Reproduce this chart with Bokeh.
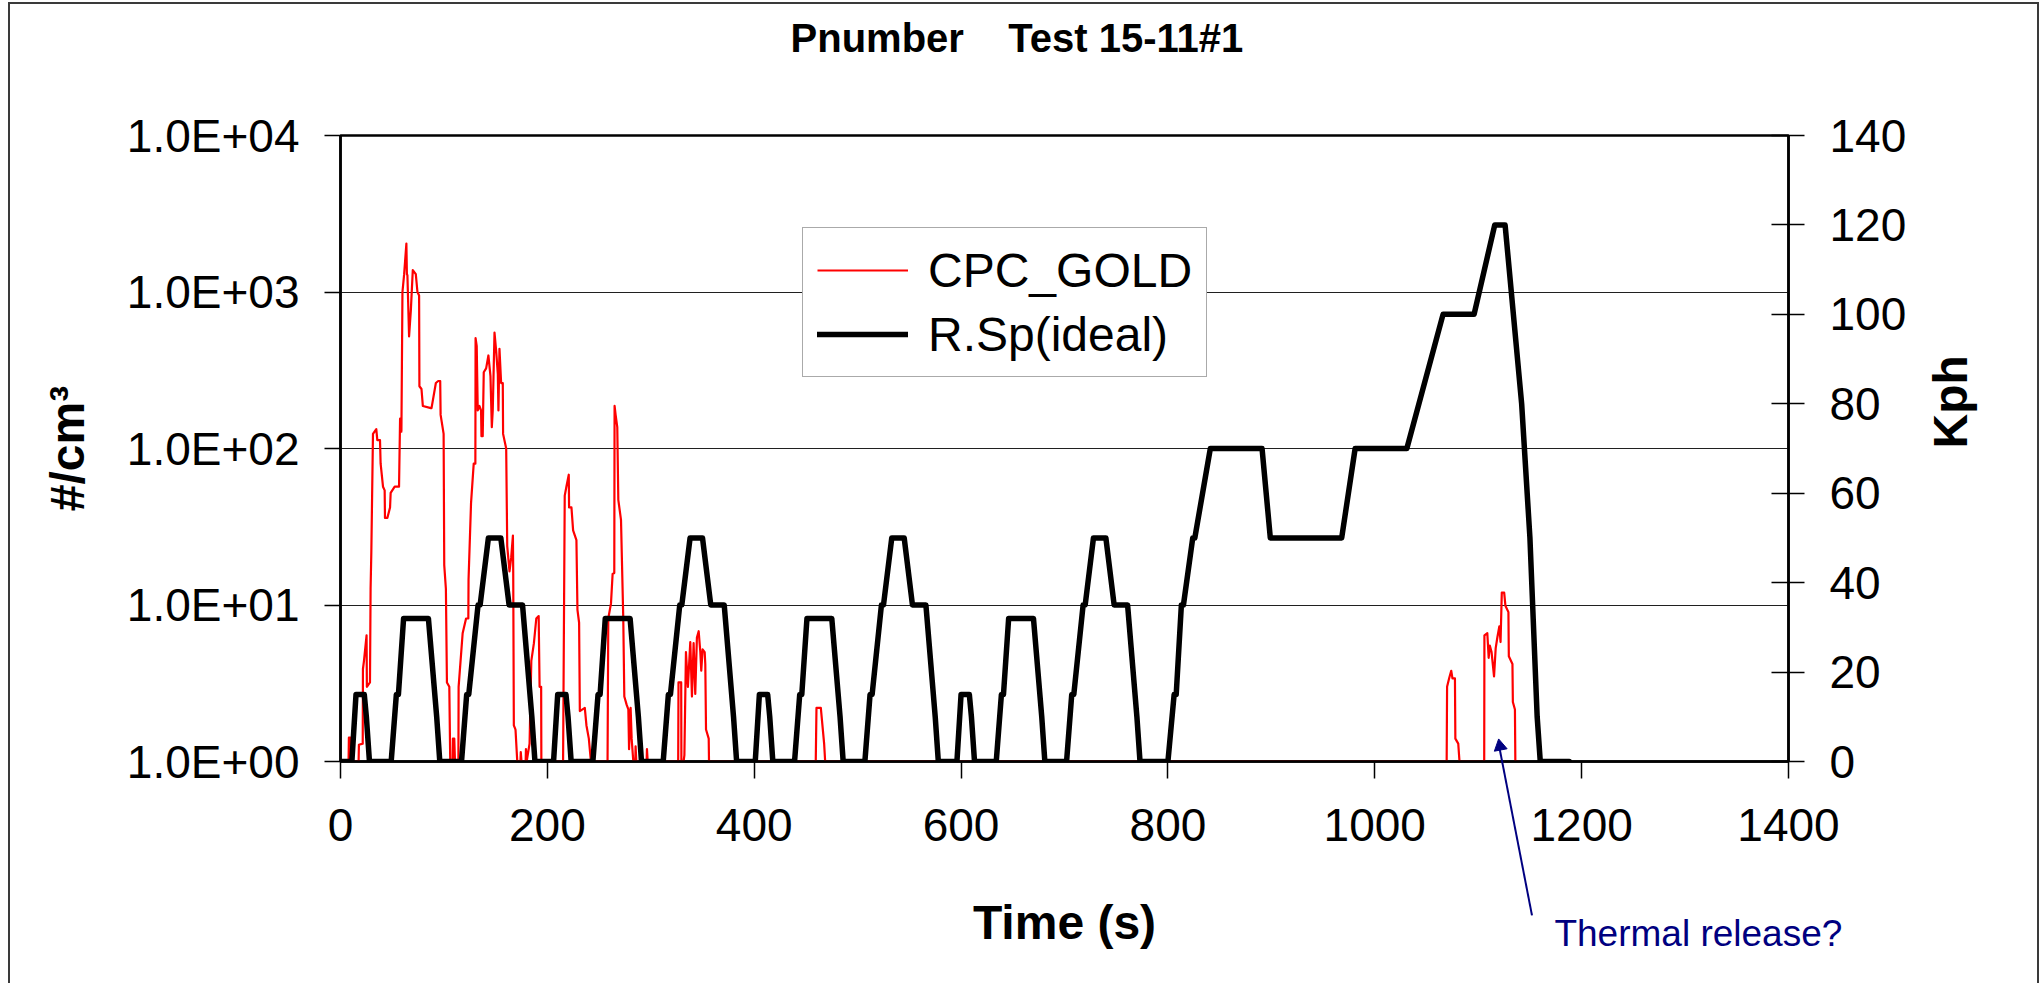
import math
from bokeh.plotting import figure
from bokeh.models import (Range1d, LinearAxis, LinearScale, FixedTicker, CustomJSTickFormatter,
                          Legend, LegendItem)
from bokeh.core.properties import value
from bokeh.embed import file_html
from bokeh.resources import INLINE

FONT = "Liberation Sans"

title_text = "Pnumber\u00a0\u00a0\u00a0\u00a0Test 15-11#1"
x_label = "Time (s)"
left_label = "#/cm\u00b3"
right_label = "Kph"
note_text = "Thermal release?"
series_names = ["CPC_GOLD", "R.Sp(ideal)"]

x_ticks = [0, 200, 400, 600, 800, 1000, 1200, 1400]
conc_ticks = [1, 10, 100, 1000, 10000]
kph_ticks = [0, 20, 40, 60, 80, 100, 120, 140]

# CPC_GOLD particle number (#/cm3)
cpc_time = [0, 7.8, 8.1, 9.5, 9.7, 17.5, 17.8, 21.5, 21.7, 22.7, 25.2, 25.5, 28.5, 29.1, 29.8,
            31.4, 34.6, 35.6, 38.2, 38.8, 41.1, 42.7, 43.0, 45.3, 47.9, 48.5, 52.4, 56.6, 57.6,
            58.9, 59.9, 61.5, 63.7, 64.2, 64.7, 66.3, 68.0, 69.9, 72.8, 74.4, 76.0, 76.3, 78.3,
            79.6, 87.4, 88.0, 92.2, 94.5, 96.4, 96.8, 99.7, 100.3, 101.9, 102.9, 105.2, 106.1,
            108.4, 108.7, 110.0, 110.7, 114.0, 114.2, 118.1, 121.4, 123.6, 123.8, 126.2, 128.8,
            130.4, 130.6, 131.7, 132.7, 134.3, 135.9, 136.3, 137.5, 138.5, 140.8, 143.0, 145.0,
            146.3, 147.2, 148.9, 150.5, 152.1, 152.7, 153.7, 155.3, 156.9, 157.2, 160.2, 161.2,
            163.4, 165.0, 166.7, 167.0, 167.6, 169.2, 170.9, 174.0, 174.3, 175.0, 179.0, 179.3,
            180.0, 182.8, 184.5, 187.0, 189.3, 191.6, 192.5, 194.0, 194.2, 215.2, 216.8, 218.4,
            220.7, 221.0, 223.3, 224.9, 228.1, 229.1, 230.7, 231.4, 236.2, 237.8, 240.1, 242.1,
            258.2, 258.9, 261.5, 263.1, 264.7, 265.0, 266.0, 267.6, 268.6, 271.2, 273.4, 274.4,
            276.7, 278.3, 279.0, 280.5, 281.5, 283.1, 285.0, 285.3, 286.0, 290.0, 290.3, 291.0,
            296.0, 296.3, 297.0, 326.5, 326.8, 329.4, 329.6, 331.7, 332.5, 334.0, 335.9, 338.2,
            339.8, 341.4, 343.0, 344.6, 346.3, 347.9, 348.8, 350.1, 352.1, 352.7, 353.4, 356.0,
            356.3, 459.5, 460.2, 464.4, 467.6, 468.6, 1069.5, 1069.9, 1071.9, 1073.9, 1075.1,
            1077.5, 1077.9, 1080.7, 1081.9, 1105.8, 1106.0, 1108.8, 1110.1, 1111.2, 1112.9,
            1115.3, 1116.9, 1118.5, 1120.4, 1121.6, 1122.8, 1125.1, 1126.3, 1129.2, 1129.6,
            1133.1, 1133.5, 1135.5, 1135.9, 1140.0]
cpc_conc = [1, 1, 1.42, 1.42, 1, 1, 1.28, 1.3, 3.9, 4.4, 6.4, 3.0, 3.2, 12.7, 21.6,
            124, 133, 113, 113, 80, 57, 54, 36, 36, 42, 52, 57, 57, 155,
            128, 1000, 1290, 2040, 1300, 1280, 520, 760, 1380, 1300, 1000, 950, 250, 240,
            187, 181, 181, 262, 270, 270, 164, 124, 18, 12.7, 3.2, 3.0, 1,
            1, 1.4, 1.4, 1, 1, 3.0, 6.6, 8.2, 8.2, 14.5, 44.6, 80,
            80, 507, 450, 175, 187, 175, 120, 120, 307, 325, 393, 290,
            137, 175, 551, 420, 300, 175, 433, 262, 262, 124, 100, 23.8,
            16.4, 20, 27.8, 16, 1.7, 1.6, 1, 1, 1.15, 1, 1, 1.2,
            1, 1.3, 4.4, 5.7, 8.2, 8.5, 3.0, 3.0, 1, 1, 50, 57,
            68, 42, 42, 30, 26, 9.3, 7.7, 2.1, 2.2, 1.7, 1.4, 1,
            1, 8.2, 10.2, 15.8, 16, 187, 164, 137, 47, 35, 8.2, 2.6,
            2.3, 2.15, 1.2, 2.2, 1.4, 1, 1, 1.25, 1, 1, 1.3, 1,
            1, 1.2, 1, 1, 3.2, 3.2, 1, 1, 1.1, 5.0, 3.0, 5.8,
            2.6, 5.7, 2.7, 6.2, 6.8, 5.0, 3.8, 5.2, 5.0, 4.2, 1.6, 1.4,
            1, 1, 2.2, 2.2, 1.3, 1, 1, 3.0, 3.4, 3.8, 3.4,
            3.4, 1.4, 1.3, 1, 1, 6.4, 6.6, 4.6, 5.5, 5.0,
            3.5, 5.3, 6.2, 7.3, 5.8, 12, 12, 9.9, 9.0, 4.7,
            4.2, 2.4, 2.15, 1, 1]

# R.Sp(ideal) road speed (Kph)
speed_time = [0, 11, 15, 23, 25, 28, 49, 54, 56, 61, 85, 93, 96, 117, 122, 124, 133, 135, 143,
              155, 163, 176, 185, 188,
              206, 210, 218, 220, 223, 244, 249, 251, 256, 280, 288, 291, 312, 317, 319, 328,
              330, 338, 350, 358, 371, 380, 383,
              401, 405, 413, 415, 418, 439, 444, 446, 451, 475, 483, 486, 507, 512, 514, 523,
              525, 533, 545, 553, 566, 575, 578,
              596, 600, 608, 610, 613, 634, 639, 641, 646, 670, 678, 681, 702, 707, 709, 718,
              720, 728, 740, 748, 761, 770, 773,
              800, 806, 808, 813, 815, 824, 826, 841, 891, 899, 968, 981, 1031, 1066, 1096,
              1116, 1126, 1142, 1150, 1157, 1160, 1188]
speed_kph = [0, 0, 15, 15, 10, 0, 0, 15, 15, 32, 32, 10, 0, 0, 15, 15, 35, 35, 50,
             50, 35, 35, 10, 0,
             0, 15, 15, 10, 0, 0, 15, 15, 32, 32, 10, 0, 0, 15, 15, 35,
             35, 50, 50, 35, 35, 10, 0,
             0, 15, 15, 10, 0, 0, 15, 15, 32, 32, 10, 0, 0, 15, 15, 35,
             35, 50, 50, 35, 35, 10, 0,
             0, 15, 15, 10, 0, 0, 15, 15, 32, 32, 10, 0, 0, 15, 15, 35,
             35, 50, 50, 35, 35, 10, 0,
             0, 15, 15, 35, 35, 50, 50, 70, 70, 50, 50, 70, 70, 100, 100,
             120, 120, 80, 50, 10, 0, 0]

p = figure(frame_width=1448, frame_height=626,
           x_range=Range1d(0, 1400), y_range=Range1d(1, 10000), y_axis_type="log",
           output_backend="svg", toolbar_location=None,
           min_border_left=330, min_border_right=249, min_border_top=131, min_border_bottom=222,
           x_axis_label=x_label, y_axis_label=left_label)
p.extra_y_ranges = {"kph": Range1d(0, 140)}
p.extra_y_scales = {"kph": LinearScale()}
p.background_fill_color = "white"
p.border_fill_color = "white"
p.outline_line_color = "black"
p.outline_line_width = 2.5
p.styles = {"margin-left": "8px", "margin-top": "2px",
            "border-left": "2px solid #3a3a3a", "border-top": "2px solid #3a3a3a",
            "border-right": "2px solid #3a3a3a"}

# grid
p.xgrid.grid_line_color = None
p.ygrid.ticker = FixedTicker(ticks=conc_ticks)
p.ygrid.grid_line_color = "#202020"
p.ygrid.grid_line_width = 1

def style_axis(ax):
    ax.axis_line_color = "black"
    ax.axis_line_width = 2.5
    ax.major_tick_line_color = "black"
    ax.major_tick_line_width = 1.5
    ax.minor_tick_line_color = None
    ax.major_label_text_font = FONT
    ax.major_label_text_font_size = "46px"
    ax.major_label_text_color = "black"
    ax.axis_label_text_font = FONT
    ax.axis_label_text_font_size = "48px"
    ax.axis_label_text_font_style = "bold"
    ax.axis_label_text_color = "black"

xa = p.xaxis[0]
style_axis(xa)
xa.ticker = FixedTicker(ticks=x_ticks)
xa.major_tick_in = 0
xa.major_tick_out = 17
xa.major_label_standoff = 30
xa.axis_label_standoff = 52

ya = p.yaxis[0]
style_axis(ya)
ya.ticker = FixedTicker(ticks=conc_ticks)
ya.formatter = CustomJSTickFormatter(code="""
const e = Math.round(Math.log10(tick));
return "1.0E+" + (e < 10 ? "0" : "") + e;
""")
ya.major_tick_in = 0
ya.major_tick_out = 16
ya.major_label_standoff = 25
ya.axis_label_standoff = 30

ra = LinearAxis(y_range_name="kph", axis_label=right_label, ticker=FixedTicker(ticks=kph_ticks))
style_axis(ra)
ra.major_tick_in = 17
ra.major_tick_out = 16
ra.major_label_standoff = 25
ra.axis_label_standoff = 41
ra.axis_label_orientation = math.pi / 2
p.add_layout(ra, "right")

r_cpc = p.line(cpc_time, cpc_conc, line_color="#ff0000", line_width=2.2, line_join="round")
r_spd = p.line(speed_time, speed_kph, y_range_name="kph", line_color="black", line_width=5.5,
               line_join="round", line_cap="round")

legend = Legend(items=[LegendItem(label=series_names[0], renderers=[r_cpc]),
                       LegendItem(label=series_names[1], renderers=[r_spd])],
                location=(462, 384))
legend.label_text_font = FONT
legend.label_text_font_size = "48px"
legend.label_text_color = "black"
legend.glyph_width = 91
legend.glyph_height = 56
legend.label_height = 56
legend.label_standoff = 20
legend.spacing = 8
legend.padding = 14
legend.margin = 0
legend.border_line_color = "#555555"
legend.border_line_width = 1.5
legend.background_fill_color = "white"
legend.background_fill_alpha = 1
p.add_layout(legend)

# chart title and note, drawn on the overlay level so they may sit outside the frame
p.text(x=[435.1], y=[161.9], text=[title_text], y_range_name="kph", level="overlay",
       text_font=value(FONT), text_font_size="40px", text_font_style="bold",
       text_color="black", text_baseline="alphabetic", text_align="left")
p.text(x=[1173.7], y=[-38.4], text=[note_text], y_range_name="kph", level="overlay",
       text_font=value(FONT), text_font_size="37px", text_color="#000080",
       text_baseline="alphabetic", text_align="left")

# arrow pointing at the late particle burst
p.segment(x0=[1152], y0=[-34.4], x1=[1120.6], y1=[3.0], y_range_name="kph", level="overlay",
          line_color="#000080", line_width=2)
p.scatter(x=[1121.1], y=[3.4], marker="triangle", size=13, angle=0.187, y_range_name="kph",
          level="overlay", fill_color="#000080", line_color="#000080")

with open("out.html", "w") as f:
    f.write(file_html(p, INLINE, title="Pnumber Test 15-11#1"))
